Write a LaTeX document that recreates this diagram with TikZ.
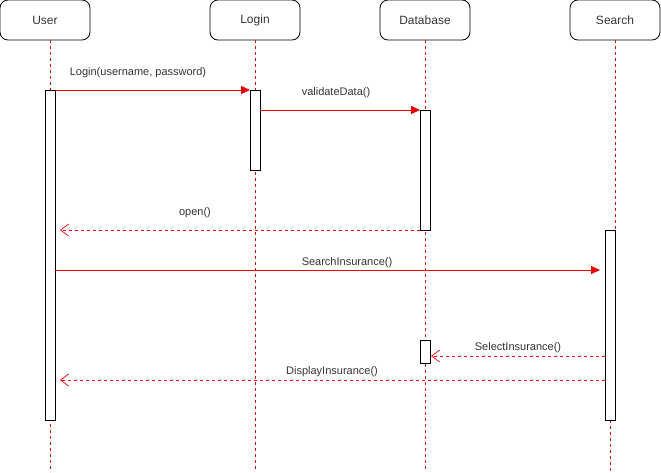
\documentclass[tikz,border=0pt]{standalone}
\usepackage{fontspec}
\setmainfont{Liberation Sans}
\usetikzlibrary{arrows.meta}
\definecolor{msgred}{HTML}{EE0000}
\definecolor{lifered}{HTML}{CC1111}
\definecolor{txt}{HTML}{333333}
\begin{document}
\begin{tikzpicture}[x=1pt,y=-1pt,
  head/.style={draw=black,line width=0.8pt,rounded corners=8pt,minimum width=90pt,minimum height=40pt,
    inner sep=0pt,font=\fontsize{12}{14}\selectfont,text=txt},
  bar/.style={draw=black,line width=0.9pt,fill=white,minimum width=10pt,inner sep=0pt},
  life/.style={draw=lifered,line width=0.7pt,dash pattern=on 3pt off 3pt},
  call/.style={draw=msgred,line width=0.8pt,-{Triangle[length=9pt,width=8pt]}},
  reply/.style={draw=msgred,line width=0.7pt,dash pattern=on 3pt off 3pt,
    -{Straight Barb[length=8pt,width=12pt,line width=0.7pt]}},
  lbl/.style={font=\fontsize{11}{13}\selectfont,text=txt,inner sep=0pt}]
\useasboundingbox (0,0) rectangle (661,472);

% participants
\node[head] (user)   at (45,20)  {User};
\node[head] (login)  at (255,20) {Login};
\node[head] (db)     at (425,20) {Database};
\node[head] (search) at (615,20) {Search};

% lifeline ends
\coordinate (userEnd)   at (50,472);
\coordinate (loginEnd)  at (255,472);
\coordinate (dbEnd)     at (425,472);
\coordinate (searchEnd) at (610,472);

% lifelines
\draw[life] (50,40) -- (userEnd);
\draw[life] (login.south) -- (loginEnd);
\draw[life] (db.south) -- (dbEnd);
\draw[life] (615,40) -- (615,230);
\draw[life] (610,420) -- (searchEnd);

% activation bars
\node[bar,minimum height=330pt] (userAct)   at (50,255)  {};
\node[bar,minimum height=80pt]  (loginAct)  at (255,130) {};
\node[bar,minimum height=120pt] (dbAct)     at (425,170) {};
\node[bar,minimum height=190pt] (searchAct) at (610,325) {};
\node[bar,minimum height=23pt]  (dbAct2)    at (425,351.5) {};

% message end points
\coordinate (m1a) at (55,90);   \coordinate (m1b) at (250,90);
\coordinate (m2a) at (260,110); \coordinate (m2b) at (420,110);
\coordinate (m3a) at (420,230); \coordinate (m3b) at (60,230);
\coordinate (m4a) at (55,270);  \coordinate (m4b) at (600,270);
\coordinate (m5a) at (605,356); \coordinate (m5b) at (431,356);
\coordinate (m6a) at (605,380); \coordinate (m6b) at (60,380);

% messages
\draw[call]  (m1a) -- (m1b);
\draw[call]  (m2a) -- (m2b);
\draw[reply] (m3a) -- (m3b);
\draw[call]  (m4a) -- (m4b);
\draw[reply] (m5a) -- (m5b);
\draw[reply] (m6a) -- (m6b);

% message labels
\node[lbl] (l1) at (138,73)  {Login(username, password)};
\node[lbl] (l2) at (336,93)  {validateData()};
\node[lbl] (l3) at (195,213) {open()};
\node[lbl] (l4) at (347,263) {SearchInsurance()};
\node[lbl] (l5) at (518,348) {SelectInsurance()};
\node[lbl] (l6) at (332,372) {DisplayInsurance()};
\end{tikzpicture}
\end{document}
